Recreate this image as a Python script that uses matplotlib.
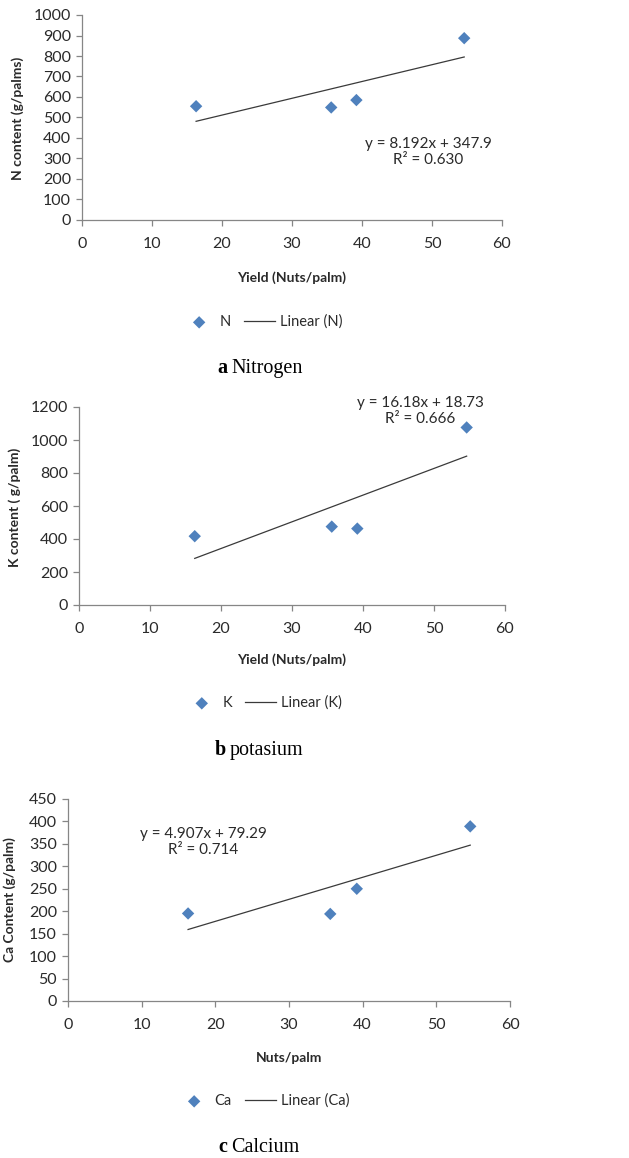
import numpy as np
import matplotlib.pyplot as plt

# yield (nuts/palm) for the four palms, shared by all panels
yield_nuts = [16.3, 35.6, 39.2, 54.6]

n_content = [555, 549, 585, 887]
k_content = [417, 475, 463, 1076]
ca_content = [195, 194, 250, 389]

# fitted lines as printed on each panel (slope, intercept, r2)
n_fit = (8.192, 347.9, 0.630)
k_fit = (16.18, 18.73, 0.666)
ca_fit = (4.907, 79.29, 0.714)

W, H = 629, 1158
fig = plt.figure(figsize=(W / 100, H / 100), dpi=100)

sans = 'Lato'
serif = 'Liberation Serif'
blue = '#4F81BD'
grey = '#868686'
ink = '#2a2a2a'


def px(x, y):
    return x / W, 1 - y / H


def panel(box, xs, ys, fit, ymax, ystep, ylabel, xlabel, name, eq_xy,
          ylab_xy, xlab_y, leg_xy, cap_y, cap_letter, cap_word, cap_split):
    l, t, r, b = box
    ax = fig.add_axes([l / W, 1 - b / H, (r - l) / W, (b - t) / H])
    ax.scatter(xs, ys, marker='D', s=40, color=blue, zorder=3, label=name,
               edgecolors='none')
    slope, icpt, r2 = fit
    lx = np.array([min(xs), max(xs)])
    ax.plot(lx, slope * lx + icpt, color='#3a3a3a', lw=0.9,
            label='Linear (%s)' % name)
    ax.set_xlim(0, 60)
    ax.set_ylim(0, ymax)
    ax.set_xticks(range(0, 61, 10))
    ax.set_yticks(np.arange(0, ymax + 1, ystep))
    for s in ['top', 'right']:
        ax.spines[s].set_visible(False)
    for s in ['left', 'bottom']:
        ax.spines[s].set_color(grey)
        ax.spines[s].set_linewidth(0.9)
    ax.tick_params(colors=grey, length=4, width=0.9, labelcolor=ink,
                   labelsize=11.5, pad=4)
    ax.tick_params(axis='x', pad=8)
    for lab in ax.get_xticklabels() + ax.get_yticklabels():
        lab.set_fontfamily(sans)

    fig.text(*px(*eq_xy), 'y = %sx + %s\nR\u00b2 = %.3f' % (slope, icpt, r2),
             ha='center', va='center', fontsize=11, family=sans,
             color=ink, multialignment='center', linespacing=1.2)
    fig.text(*px(*ylab_xy), ylabel, rotation=90, ha='center', va='center',
             fontsize=10, fontweight='bold', family=sans, color=ink)
    fig.text(*px((l + r) / 2, xlab_y), xlabel, ha='center', va='center',
             fontsize=10, fontweight='bold', family=sans, color=ink)
    fig.legend(*ax.get_legend_handles_labels(), loc='center',
               bbox_to_anchor=px(*leg_xy), ncol=2, frameon=False,
               prop={'family': sans, 'size': 10.5}, handlelength=2.1,
               columnspacing=0.9, handletextpad=0.35, scatterpoints=1,
               labelcolor=ink)
    fig.text(*px(cap_split - 2, cap_y), cap_letter, ha='right', va='center',
             fontsize=14.5, fontweight='bold', family=serif)
    fig.text(*px(cap_split + 2, cap_y), cap_word, ha='left', va='center',
             fontsize=14.5, family=serif)
    return ax


panel((82, 15, 502, 220), yield_nuts, n_content, n_fit, 1000, 100,
      'N content (g/palms)', 'Yield (Nuts/palm)', 'N', (428, 152),
      (18, 118), 278, (263, 322), 368, 'a', 'Nitrogen', 229)

panel((79, 407, 505, 605), yield_nuts, k_content, k_fit, 1200, 200,
      'K content ( g/palm)', 'Yield (Nuts/palm)', 'K', (420, 411),
      (15, 507), 660, (264, 703), 750, 'b', 'potasium', 228)

panel((68, 799, 510, 1001), yield_nuts, ca_content, ca_fit, 450, 50,
      'Ca Content (g/palm)', 'Nuts/palm', 'Ca', (203, 842),
      (10, 900), 1058, (264, 1101), 1147, 'c', 'Calcium', 229)

fig.savefig('out.png', dpi=100)
